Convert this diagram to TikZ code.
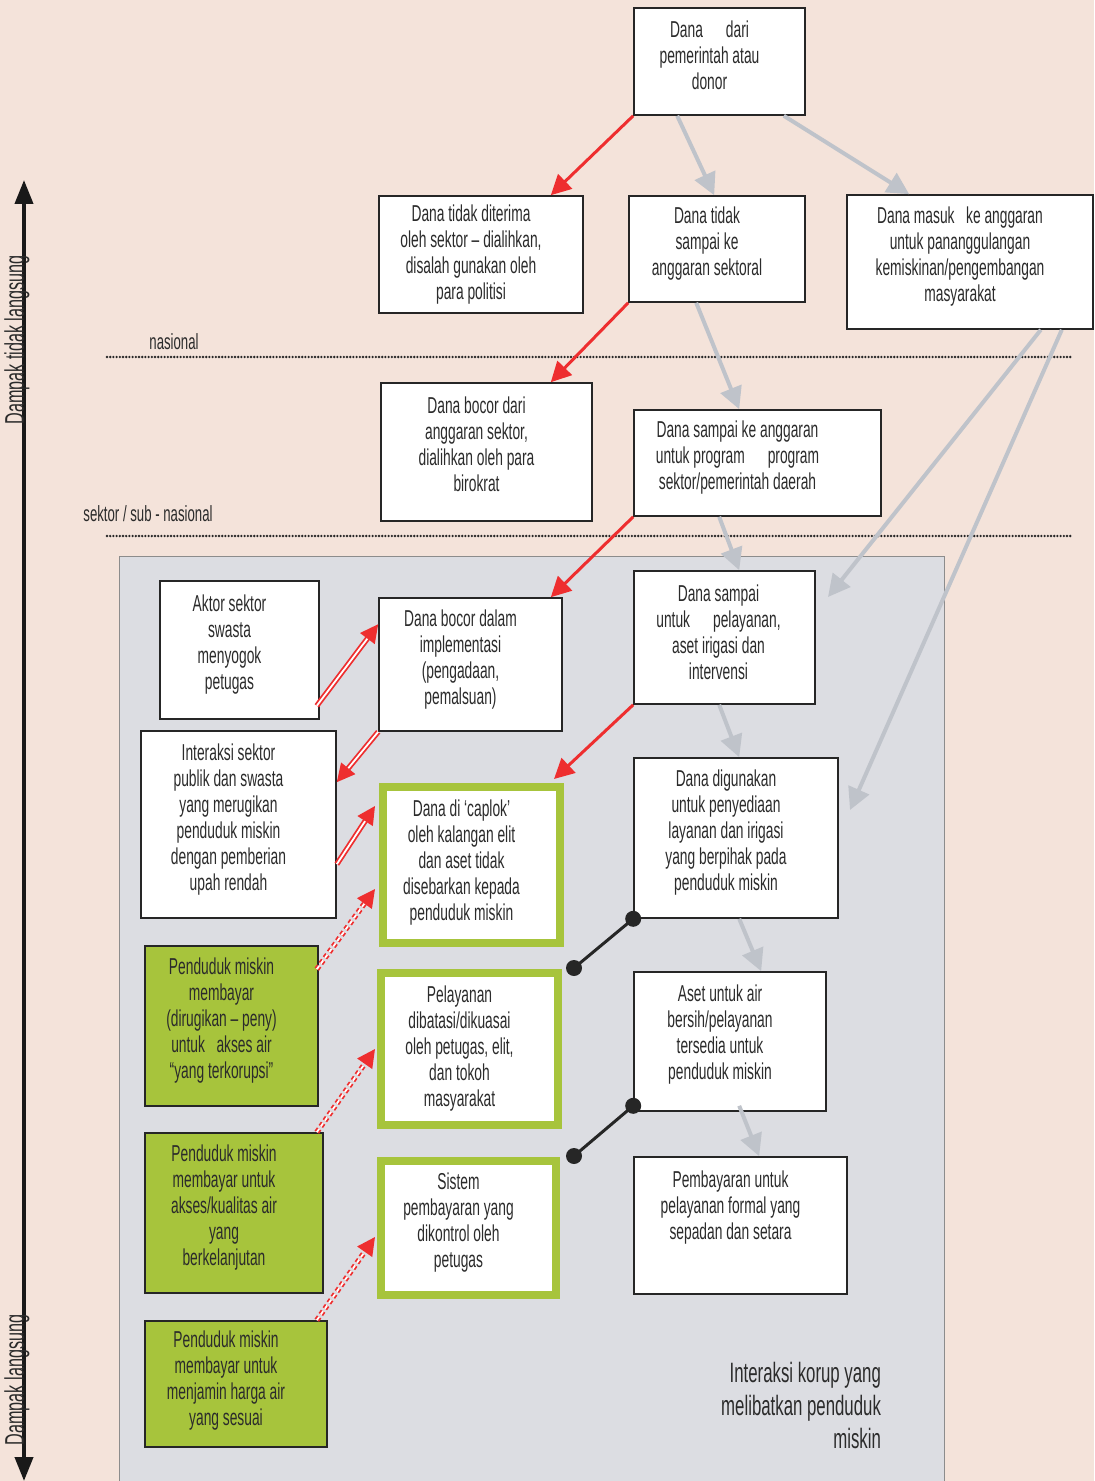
\documentclass[tikz,border=0pt]{standalone}
\usepackage{fontspec}
\setmainfont{Liberation Sans}[FakeStretch=0.6]
\usetikzlibrary{arrows.meta, calc, fit}
\definecolor{latar}{HTML}{F4E3DA}
\definecolor{panel}{HTML}{DCDDE2}
\definecolor{merah}{HTML}{EE2E2F}
\definecolor{abu}{HTML}{BFC3CA}
\definecolor{hijau}{HTML}{A7C43C}
\definecolor{teks}{HTML}{2B2B2B}
\begin{document}
\begin{tikzpicture}[x=0.5pt, y=-0.5pt]
\tikzset{
    kotak/.style={draw=black!85, thick, fill=white, inner sep=0pt},
    kotakhijau/.style={kotak, draw=hijau, line width=4pt},
    isihijau/.style={kotak, fill=hijau},
    isi/.style={align=center, text=teks, inner sep=0pt, xshift=-5pt, yshift=2.5pt,
                font=\fontsize{11.5}{13}\selectfont},
    alir/.style={draw=abu, line width=2pt, -{Triangle[length=11pt, width=11pt]}},
    bocor/.style={draw=merah, line width=1.5pt, -{Triangle[length=10pt, width=10pt]}},
    ganda/.style={draw=merah, double=white, double distance=0.9pt, line width=0.9pt,
                  -{Triangle[length=9pt, width=9pt]}},
    gandaputus/.style={ganda, dash pattern=on 2pt off 1.5pt},
    sambung/.style={draw=black!85, line width=1.5pt},
    batas/.style={draw=black!85, line width=1.3pt, line cap=round, dash pattern=on 0pt off 1.6pt},
    tingkat/.style={text=teks, font=\fontsize{11}{13}\selectfont}
}
\useasboundingbox (0,0) rectangle (1094,1481);
\fill[latar] (0,0) rectangle (1094,1481);
\draw[fill=panel, draw=black!45] (119,556) rectangle (944,1495);
% garis batas tingkat
\draw[batas] (107,357) -- (1072,357);
\draw[batas] (107,536) -- (1072,536);
\node[tingkat] (nas) at (174,342) {nasional};
\node[tingkat] (sub) at (148,514) {sektor / sub - nasional};
% sumbu dampak
\coordinate (atas) at (24,180);
\coordinate (bawah) at (24,1481);
\draw[line width=2pt, black!90, {Triangle[length=12pt, width=9pt]}-{Triangle[length=12pt, width=9pt]}] (atas) -- (bawah);
\node[tingkat, rotate=90, font=\fontsize{13.5}{15}\selectfont] (tdk) at (17,340) {Dampak tidak langsung};
\node[tingkat, rotate=90, font=\fontsize{13.5}{15}\selectfont] (lgs) at (17,1380) {Dampak langsung};
% kotak-kotak
\node[kotak, fit={(634,8) (805,115)}, label={[isi, yshift=0.5pt]center:{Dana\quad dari\\pemerintah atau\\donor}}] (donor) {};
\node[kotak, fit={(379,196) (583,313)}, label={[isi, yshift=-2.5pt]center:{Dana tidak diterima\\oleh sektor -- dialihkan,\\disalah gunakan oleh\\para politisi}}] (politisi) {};
\node[kotak, fit={(629,196) (805,302)}, label={[isi]center:{Dana tidak\\sampai ke\\anggaran sektoral}}] (sektoral) {};
\node[kotak, fit={(847,195) (1093,329)}, label={[isi]center:{Dana masuk\enspace ke anggaran\\untuk pananggulangan\\kemiskinan/pengembangan\\masyarakat}}] (masuk) {};
\node[kotak, fit={(381,383) (592,521)}, label={[isi, yshift=1.5pt]center:{Dana bocor dari\\anggaran sektor,\\dialihkan oleh para\\birokrat}}] (birokrat) {};
\node[kotak, fit={(634,410) (881,516)}, label={[isi, xshift=-5pt]center:{Dana sampai ke anggaran\\untuk program\quad program\\sektor/pemerintah daerah}}] (program) {};
\node[kotak, fit={(160,581) (319,719)}, label={[isi]center:{Aktor sektor\\swasta\\menyogok\\petugas}}] (aktor) {};
\node[kotak, fit={(379,598) (562,731)}, label={[isi]center:{Dana bocor dalam\\implementasi\\(pengadaan,\\pemalsuan)}}] (bocorimpl) {};
\node[kotak, fit={(634,571) (815,704)}, label={[isi, xshift=2pt]center:{Dana sampai\\untuk\quad pelayanan,\\aset irigasi dan\\intervensi}}] (layanan) {};
\node[kotak, fit={(141,731) (336,918)}, label={[isi]center:{Interaksi sektor\\publik dan swasta\\yang merugikan\\penduduk miskin\\dengan pemberian\\upah rendah}}] (interaksi) {};
\node[kotakhijau, fit={(383,787) (560,943)}, label={[isi, yshift=-1.5pt]center:{Dana di ‘caplok’\\oleh kalangan elit\\dan aset tidak\\disebarkan kepada\\penduduk miskin}}] (caplok) {};
\node[kotak, fit={(634,758) (838,918)}, label={[isi]center:{Dana digunakan\\untuk penyediaan\\layanan dan irigasi\\yang berpihak pada\\penduduk miskin}}] (digunakan) {};
\node[isihijau, fit={(145,946) (318,1106)}, label={[isi]center:{Penduduk miskin\\membayar\\(dirugikan -- peny)\\untuk\enspace akses air\\“yang terkorupsi”}}] (miskin1) {};
\node[kotakhijau, fit={(381,973) (558,1125)}, label={[isi, yshift=-2.5pt]center:{Pelayanan\\dibatasi/dikuasai\\oleh petugas, elit,\\dan tokoh\\masyarakat}}] (pelayanan) {};
\node[kotak, fit={(634,972) (826,1111)}, label={[isi, yshift=1pt]center:{Aset untuk air\\bersih/pelayanan\\tersedia untuk\\penduduk miskin}}] (asetair) {};
\node[isihijau, fit={(145,1133) (323,1293)}, label={[isi]center:{Penduduk miskin\\membayar untuk\\akses/kualitas air\\yang\\berkelanjutan}}] (miskin2) {};
\node[kotakhijau, fit={(381,1161) (556,1295)}, label={[isi]center:{Sistem\\pembayaran yang\\dikontrol oleh\\petugas}}] (sistem) {};
\node[kotak, fit={(634,1157) (847,1294)}, label={[isi, yshift=6.5pt]center:{Pembayaran untuk\\pelayanan formal yang\\sepadan dan setara}}] (pembayaran) {};
\node[isihijau, fit={(145,1321) (327,1447)}, label={[isi, yshift=-1pt]center:{Penduduk miskin\\membayar untuk\\menjamin harga air\\yang sesuai}}] (miskin3) {};
\node[anchor=north east, align=right, text=teks, font=\fontsize{14}{16.5}\selectfont] (judul) at (888,1355)
    {Interaksi korup yang\\melibatkan penduduk\\miskin};
% aliran dana (abu-abu)
\coordinate (ujungA) at (828,597);
\coordinate (ujungB) at (850,810);
\draw[alir] ($(donor.south west)+(44,0)$) -- ($(sektoral.north west)+(86,0)$);
\draw[alir] ($(donor.south east)+(-22,0)$) -- ($(masuk.north west)+(63,0)$);
\draw[alir] ($(sektoral.south west)+(68,0)$) -- ($(program.north west)+(106,0)$);
\draw[alir] ($(program.south west)+(86,0)$) -- ($(layanan.north west)+(106,0)$);
\draw[alir] ($(masuk.south east)+(-53,0)$) -- (ujungA);
\draw[alir] ($(masuk.south east)+(-32,0)$) -- (ujungB);
\draw[alir] ($(layanan.south west)+(86,0)$) -- ($(digunakan.north west)+(106,0)$);
\draw[alir] ($(digunakan.south west)+(106,0)$) -- ($(asetair.north west)+(128,0)$);
\draw[alir] ($(asetair.south west)+(106,-6)$) -- ($(pembayaran.north west)+(126,0)$);
% kebocoran (merah)
\draw[bocor] (donor.south west) -- ($(politisi.north east)+(-33,0)$);
\draw[bocor] (sektoral.south west) -- ($(birokrat.north east)+(-42,0)$);
\draw[bocor] (program.south west) -- ($(bocorimpl.north east)+(-12,0)$);
\draw[bocor] (layanan.south west) -- ($(caplok.north east)+(-10,-4)$);
% interaksi (merah ganda)
\draw[ganda] ($(aktor.south east)+(-3,-14)$) -- ($(bocorimpl.north west)+(0,27)$);
\draw[ganda] (bocorimpl.south west) -- ($(interaksi.north east)+(0,52)$);
\draw[ganda] ($(interaksi.north east)+(0,134)$) -- ($(caplok.north west)+(-4,23)$);
\draw[gandaputus] ($(miskin1.north east)+(-2,24)$) -- ($(caplok.north west)+(-4,106)$);
\draw[gandaputus] ($(miskin2.north east)+(-7,0)$) -- ($(pelayanan.north west)+(-2,80)$);
\draw[gandaputus] ($(miskin3.north east)+(-11,0)$) -- ($(sistem.north west)+(-2,80)$);
% sambungan hitam
\coordinate (s1) at ($(digunakan.south west)$);
\coordinate (s2) at ($(pelayanan.north east)+(12,-1)$);
\coordinate (s3) at ($(asetair.south west)+(0,-6)$);
\coordinate (s4) at ($(sistem.north east)+(14,-1)$);
\draw[sambung] (s1) -- (s2);
\draw[sambung] (s3) -- (s4);
\foreach \t in {s1,s2,s3,s4} \fill[black!85] (\t) circle (4pt);
\end{tikzpicture}
\end{document}
